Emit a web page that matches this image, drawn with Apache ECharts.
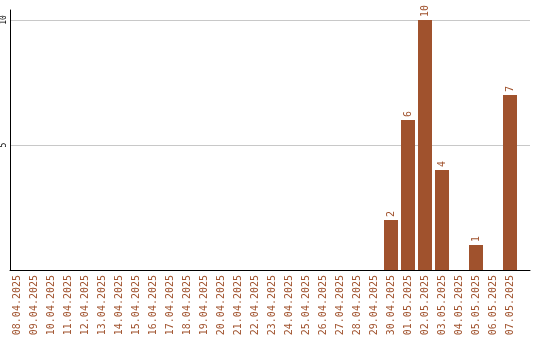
<!DOCTYPE html>
<html>
<head>
<meta charset="utf-8">
<script src="https://cdn.jsdelivr.net/npm/echarts@6/dist/echarts.min.js"></script>
<style>html,body{margin:0;padding:0;background:#fff}#c{width:540px;height:340px}</style>
</head>
<body>
<div id="c"></div>
<script>
var categories = ["08.04.2025","09.04.2025","10.04.2025","11.04.2025","12.04.2025","13.04.2025","14.04.2025","15.04.2025","16.04.2025","17.04.2025","18.04.2025","19.04.2025","20.04.2025","21.04.2025","22.04.2025","23.04.2025","24.04.2025","25.04.2025","26.04.2025","27.04.2025","28.04.2025","29.04.2025","30.04.2025","01.05.2025","02.05.2025","03.05.2025","04.05.2025","05.05.2025","06.05.2025","07.05.2025"];
var values = [0,0,0,0,0,0,0,0,0,0,0,0,0,0,0,0,0,0,0,0,0,0,2,6,10,4,0,1,0,7];
var yTicks = [5, 10];

var brown = '#A0522D';
var mono = '"DejaVu Sans Mono", "Liberation Mono", monospace';

var chart = echarts.init(document.getElementById('c'), null, {renderer: 'canvas'});
chart.setOption({
  animation: false,
  backgroundColor: '#ffffff',
  grid: [
    {left: 10, right: 10, top: 10, bottom: 70},
    {left: 10, right: 10, top: 20, bottom: 70},
    {left: 8.5, width: 510, top: 20, bottom: 70}
  ],
  xAxis: [
    {gridIndex: 0, type: 'value', min: 0, max: 1, axisLine: {show: true, onZero: false, lineStyle: {color: '#000', width: 1}}, axisTick: {show: false}, axisLabel: {show: false}, splitLine: {show: false}},
    {gridIndex: 1, type: 'value', min: 0, max: 1, show: false},
    {gridIndex: 2, type: 'category', data: categories, boundaryGap: true,
      axisLine: {show: false}, axisTick: {show: false},
      axisLabel: {interval: 0, rotate: 90, margin: 5, color: brown, fontFamily: mono, fontSize: 10}}
  ],
  yAxis: [
    {gridIndex: 0, type: 'value', min: 0, max: 10.4, axisLine: {show: true, onZero: false, lineStyle: {color: '#000', width: 1}}, axisTick: {show: false}, axisLabel: {show: false}, splitLine: {show: false}},
    {gridIndex: 1, type: 'value', min: 0, max: 10, interval: 5,
      axisLine: {show: false}, axisTick: {show: false},
      axisLabel: {rotate: 90, margin: 2, color: '#000', fontFamily: mono, fontSize: 8,
        formatter: function (v) { return yTicks.indexOf(v) >= 0 ? String(v) : ''; }},
      splitLine: {show: true, lineStyle: {color: '#c8c8c8', width: 1}}},
    {gridIndex: 2, type: 'value', min: 0, max: 10, show: false}
  ],
  series: [{
    type: 'bar',
    xAxisIndex: 2, yAxisIndex: 2,
    data: values,
    barWidth: 14,
    itemStyle: {color: brown},
    label: {show: true, position: 'top', rotate: 90, align: 'left', verticalAlign: 'middle', distance: 3,
      color: brown, fontFamily: mono, fontSize: 10,
      formatter: function (p) { return p.value ? String(p.value) : ''; }}
  }]
});
</script>
</body>
</html>
